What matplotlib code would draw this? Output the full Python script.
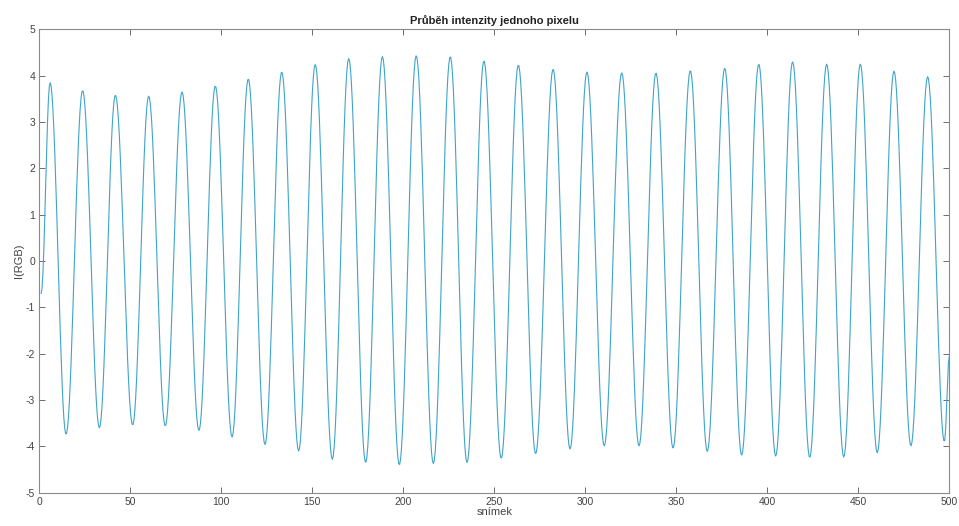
#!/usr/bin/env python3
import numpy as np
import matplotlib
matplotlib.use('Agg')
import matplotlib.pyplot as plt

plt.rc('font', family=['Liberation Sans', 'DejaVu Sans'])
plt.rc('axes', unicode_minus=False)

# extrema of the signal (frame, intensity)
peak_frames = [5.9, 23.8, 41.8, 60.1, 78.4, 96.7, 114.8, 133.2, 151.6, 170.0,
               188.5, 207.1, 225.8, 244.3, 263.2, 282.3, 300.9, 320.0, 338.8,
               357.7, 376.6, 395.3, 413.9, 432.6, 451.1, 469.6, 488.1]
peak_values = [3.85, 3.68, 3.58, 3.56, 3.65, 3.78, 3.93, 4.08, 4.24, 4.37,
               4.41, 4.43, 4.41, 4.32, 4.23, 4.14, 4.08, 4.06, 4.06,
               4.11, 4.16, 4.25, 4.30, 4.25, 4.25, 4.10, 3.98]
trough_frames = [14.7, 33.0, 51.3, 69.2, 87.7, 105.9, 124.0, 142.5, 161.0,
                 179.3, 197.8, 216.5, 235.0, 253.8, 272.7, 291.6, 310.4,
                 329.5, 348.2, 367.0, 385.9, 404.6, 423.3, 442.0, 460.4,
                 478.9, 497.3]
trough_values = [-3.74, -3.60, -3.54, -3.56, -3.66, -3.80, -3.96, -4.10, -4.28,
                 -4.35, -4.40, -4.37, -4.35, -4.26, -4.16, -4.06, -3.99,
                 -3.99, -4.04, -4.11, -4.19, -4.21, -4.24, -4.23, -4.14,
                 -3.99, -3.90]
start_frame, start_value = 1, -0.7
end_frame, end_value = 500, -2.05

x_ticks = [0, 50, 100, 150, 200, 250, 300, 350, 400, 450, 500]
y_ticks = [-5, -4, -3, -2, -1, 0, 1, 2, 3, 4, 5]


def build_signal():
    kx = [start_frame] + [v for pair in zip(peak_frames, trough_frames) for v in pair] + [end_frame]
    ky = [start_value] + [v for pair in zip(peak_values, trough_values) for v in pair] + [end_value]
    kx, ky = np.array(kx), np.array(ky)
    frames = np.arange(start_frame, end_frame + 0.01, 0.5)
    seg = np.clip(np.searchsorted(kx, frames, side='right') - 1, 0, len(kx) - 2)
    t = (frames - kx[seg]) / (kx[seg + 1] - kx[seg])
    s = 0.5 - 0.5 * np.cos(np.pi * t)
    return frames, ky[seg] + (ky[seg + 1] - ky[seg]) * s


def main():
    fig = plt.figure(figsize=(9.59, 5.26), dpi=100)
    ax = fig.add_axes([0.041, 0.0633, 0.9489, 0.881])

    frames, signal = build_signal()
    ax.plot(frames, signal, color='#3fa4c9', linewidth=0.8)

    ax.set_xlim(0, 500)
    ax.set_ylim(-5, 5)
    ax.set_xticks(x_ticks)
    ax.set_yticks(y_ticks)

    for side in ax.spines.values():
        side.set_color('#8a8a8a')
        side.set_linewidth(0.8)
    ax.tick_params(direction='in', top=True, right=True, length=4,
                   width=0.6, color='#555555', labelsize=7.5,
                   labelcolor='#444444', pad=3)

    ax.set_title('Průběh intenzity jednoho pixelu', fontsize=8,
                 fontweight='bold', color='#222222', pad=4)
    ax.set_xlabel('snímek', fontsize=8, color='#444444', labelpad=0)
    ax.set_ylabel('I(RGB)', fontsize=8, color='#444444', labelpad=1)

    fig.savefig('out.png', dpi=100)


if __name__ == '__main__':
    main()
